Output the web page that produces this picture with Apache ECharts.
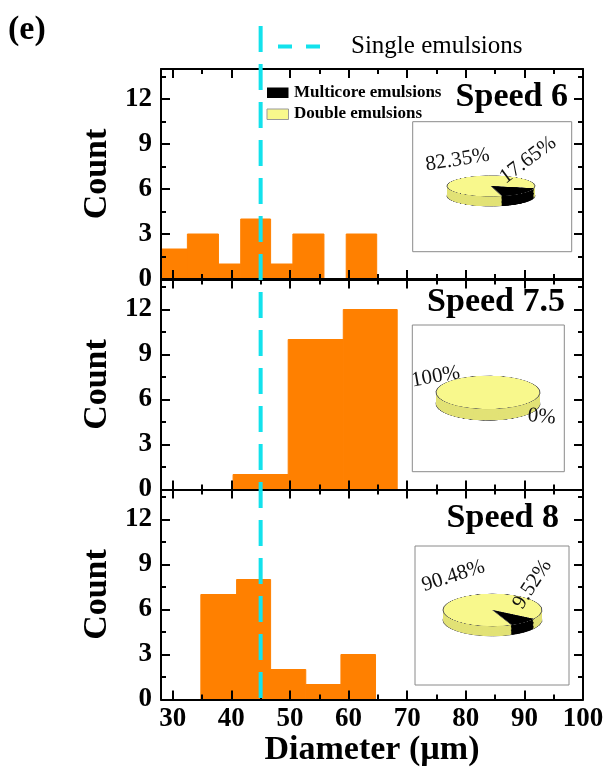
<!DOCTYPE html>
<html>
<head>
<meta charset="utf-8">
<script src="https://cdn.jsdelivr.net/npm/echarts@6/dist/echarts.min.js"></script>
<style>
  html, body { margin: 0; padding: 0; background: #fff; }
  #main { position: absolute; left: 0; top: 0; width: 608px; height: 781px; z-index: 2; }
  .pie { position: absolute; z-index: 1; }
</style>
</head>
<body>
<div id="main"></div>
<div id="pie0" class="pie"></div>
<div id="pie1" class="pie"></div>
<div id="pie2" class="pie"></div>
<script>
// values
var speeds = ['Speed 6', 'Speed 7.5', 'Speed 8'];
var binLo6 = [27.2, 32.5, 37.8, 41.6, 46.7, 50.5, 59.6];
var binHi6 = [32.5, 37.8, 41.6, 46.7, 50.5, 55.8, 64.8];
var count6 = [2, 3, 1, 4, 1, 3, 3];
var binLo75 = [40.3, 49.7, 59.1];
var binHi75 = [49.7, 59.1, 68.3];
var count75 = [1, 10, 12];
var binLo8 = [34.8, 40.9, 46.7, 52.7, 58.7];
var binHi8 = [40.9, 46.7, 52.7, 58.7, 64.6];
var count8 = [7, 8, 2, 1, 3];
var multicorePct = [17.65, 0, 9.52];
var doublePct = [82.35, 100, 90.48];
var singleDiameter = 45;
var xTicks = [30, 40, 50, 60, 70, 80, 90, 100];
var xMinor = [35, 45, 55, 65, 75, 85, 95];
var yTicks = [0, 3, 6, 9, 12];
var yMinor = [1.5, 4.5, 7.5, 10.5, 13.5];

var FONT = 'Liberation Serif';
var ORANGE = '#ff8000';
var CYAN = '#12e2ec';
var YELLOW = '#f8f88c';
var YELLOW_SIDE = '#e2e276';

var hist = [[binLo6, binHi6, count6], [binLo75, binHi75, count75], [binLo8, binHi8, count8]];
var gridTop = [69, 279.5, 489.5];
var gridLeft = 161, gridWidth = 422, gridHeight = 210;
var xMin = 28, xMax = 100, yMax = 14;

function makeAxis(isX, g, pos, values, len, showLabel, minor) {
  return {
    type: 'value', gridIndex: g, position: pos,
    min: isX ? xMin : 0, max: isX ? xMax : yMax,
    z: 4,
    axisLine: { show: !minor, onZero: false, lineStyle: { color: '#000', width: 2 } },
    axisTick: { show: true, inside: true, length: len, customValues: values,
      lineStyle: { color: '#000', width: 2 } },
    axisLabel: { show: showLabel, customValues: values, margin: isX ? 6 : 9, color: '#000',
      fontFamily: FONT, fontWeight: 'bold', fontSize: 27 },
    splitLine: { show: false }
  };
}

function histSeries(g, lo, hi, cnt) {
  return {
    type: 'custom', xAxisIndex: 4 * g, yAxisIndex: 4 * g, z: 2, silent: true,
    data: lo.map(function (v, i) { return [v, hi[i], cnt[i]]; }),
    encode: { x: [0, 1], y: 2 },
    renderItem: function (params, api) {
      var p0 = api.coord([api.value(0), api.value(2)]);
      var p1 = api.coord([api.value(1), 0]);
      var cs = params.coordSys;
      var shape = echarts.graphic.clipRectByRect(
        { x: p0[0], y: p0[1], width: p1[0] - p0[0], height: p1[1] - p0[1] },
        { x: cs.x, y: cs.y, width: cs.width, height: cs.height });
      return shape && { type: 'rect', shape: shape, style: { fill: ORANGE, stroke: ORANGE, lineWidth: 1 } };
    }
  };
}

var grids = [], xAxes = [], yAxes = [], series = [];
for (var g = 0; g < 3; g++) {
  grids.push({ left: gridLeft, top: gridTop[g], width: gridWidth, height: gridHeight });

  var xb = makeAxis(true, g, 'bottom', xTicks, 9, g === 2, false);
  if (g === 2) {
    xb.name = 'Diameter (µm)';
    xb.nameLocation = 'middle';
    xb.nameGap = 33;
    xb.nameTextStyle = { fontFamily: FONT, fontWeight: 'bold', fontSize: 34, color: '#000' };
  }
  xAxes.push(xb);
  xAxes.push(makeAxis(true, g, 'bottom', xMinor, 5, false, true));
  xAxes.push(makeAxis(true, g, 'top', xTicks, 9, false, false));
  xAxes.push(makeAxis(true, g, 'top', xMinor, 5, false, true));

  var yl = makeAxis(false, g, 'left', yTicks, 9, true, false);
  yl.name = 'Count';
  yl.nameLocation = 'middle';
  yl.nameGap = 40;
  yl.nameTextStyle = { fontFamily: FONT, fontWeight: 'bold', fontSize: 34, color: '#000' };
  yAxes.push(yl);
  yAxes.push(makeAxis(false, g, 'left', yMinor, 5, false, true));
  yAxes.push(makeAxis(false, g, 'right', yTicks, 9, false, false));
  yAxes.push(makeAxis(false, g, 'right', yMinor, 5, false, true));

  series.push(histSeries(g, hist[g][0], hist[g][1], hist[g][2]));
}

// overlay grid for the single-emulsion reference line
grids.push({ left: gridLeft, width: gridWidth, top: 26, height: 675 });
xAxes.push({ type: 'value', gridIndex: 3, min: xMin, max: xMax, show: false });
yAxes.push({ type: 'value', gridIndex: 3, min: 0, max: 1, show: false });
series.push({
  name: 'Single emulsions', type: 'line', xAxisIndex: 12, yAxisIndex: 12,
  data: [[singleDiameter, 1], [singleDiameter, 0]],
  symbol: 'none', silent: true, z: 6,
  itemStyle: { color: CYAN },
  lineStyle: { color: CYAN, width: 4, type: [26, 12] }
});

// insets, titles, legends and pie labels
var insets = [
  { x: 412.7, y: 121.7, w: 159, h: 130 },
  { x: 412.3, y: 325, w: 152, h: 146.7 },
  { x: 415, y: 546, w: 154, h: 139 }
];
var titlePos = [[568, 97], [565, 302], [559, 518]];
var labelPos = [
  { d: [457.5, 160, 9], m: [528, 160, 37] },
  { d: [435.7, 376.7, 10], m: [541.7, 416.7, -5] },
  { d: [453.3, 576, 18], m: [532.3, 584.3, 57] }
];

var graphics = [{
  type: 'text', left: 8, top: 13,
  style: { text: '(e)', font: 'bold 34px ' + FONT, fill: '#000' }
}];
insets.forEach(function (b, i) {
  graphics.push({ type: 'rect', shape: { x: b.x, y: b.y, width: b.w, height: b.h },
    style: { fill: 'none', stroke: '#8a8a8a', lineWidth: 1 }, z: 1 });
  graphics.push({ type: 'text', x: titlePos[i][0], y: titlePos[i][1],
    style: { text: speeds[i], font: 'bold 34px ' + FONT, fill: '#000', align: 'right', verticalAlign: 'middle' } });
  var lp = labelPos[i];
  graphics.push({ type: 'text', x: lp.d[0], y: lp.d[1], rotation: lp.d[2] * Math.PI / 180,
    style: { text: doublePct[i] + '%', font: '21px ' + FONT, fill: '#111', align: 'center', verticalAlign: 'middle' } });
  graphics.push({ type: 'text', x: lp.m[0], y: lp.m[1], rotation: lp.m[2] * Math.PI / 180,
    style: { text: multicorePct[i] + '%', font: '21px ' + FONT, fill: '#111', align: 'center', verticalAlign: 'middle' } });
});
graphics.push(
  { type: 'line', shape: { x1: 278, y1: 46.5, x2: 324, y2: 46.5 },
    style: { stroke: CYAN, lineWidth: 4, lineDash: [14, 14] } },
  { type: 'text', x: 351, y: 46.5, style: { text: 'Single emulsions', font: '25px ' + FONT, fill: '#000', verticalAlign: 'middle' } },
  { type: 'rect', shape: { x: 267, y: 87.5, width: 21.5, height: 10.5 }, style: { fill: '#000' } },
  { type: 'text', x: 294, y: 92.7, style: { text: 'Multicore emulsions', font: 'bold 17px ' + FONT, fill: '#000', verticalAlign: 'middle' } },
  { type: 'rect', shape: { x: 267, y: 109, width: 21.5, height: 10.5 }, style: { fill: YELLOW, stroke: '#999', lineWidth: 1 } },
  { type: 'text', x: 294, y: 114, style: { text: 'Double emulsions', font: 'bold 17px ' + FONT, fill: '#000', verticalAlign: 'middle' } }
);

var chart = echarts.init(document.getElementById('main'));
chart.setOption({
  animation: false,
  grid: grids,
  xAxis: xAxes,
  yAxis: yAxes,
  series: series,
  graphic: graphics
});

// tilted pies: drawn by the pie series, squashed with a CSS scale
var pieGeo = [
  { cx: 491, cy: 185.5, a: 44, b: 10.5, t: 10, start: -12 },
  { cx: 488, cy: 392.7, a: 52, b: 16.7, t: 11.5, start: -37 },
  { cx: 492, cy: 610.3, a: 49.5, b: 16.3, t: 10, start: -33 }
];
function pieLayer(i, p, pad, d, top, outline) {
  var stroke = top || outline;
  return {
    type: 'pie', center: [p.a + pad, p.a + pad + d], radius: p.a,
    startAngle: p.start, clockwise: true, silent: true,
    label: { show: false }, labelLine: { show: false },
    itemStyle: { borderColor: stroke ? '#555' : 'transparent', borderWidth: stroke ? 1 : 0 },
    data: [
      { name: 'Multicore emulsions', value: multicorePct[i], itemStyle: { color: '#000' } },
      { name: 'Double emulsions', value: doublePct[i], itemStyle: { color: top ? YELLOW : YELLOW_SIDE } }
    ]
  };
}
pieGeo.forEach(function (p, i) {
  var k = p.b / p.a, pad = 2, T = p.t / k;
  var w = 2 * (p.a + pad), h = w + T;
  var el = document.getElementById('pie' + i);
  el.style.left = (p.cx - p.a - pad) + 'px';
  el.style.top = (p.cy - (p.a + pad) * k) + 'px';
  el.style.width = w + 'px';
  el.style.height = h + 'px';
  el.style.transformOrigin = '50% 0';
  el.style.transform = 'scaleY(' + k + ')';
  var pc = echarts.init(el);
  var ser = [];
  var step = 0.8 / k;
  var first = true;
  for (var d = T; d > 0; d -= step) {
    ser.push(pieLayer(i, p, pad, d, false, first));
    first = false;
  }
  ser.push(pieLayer(i, p, pad, 0, true, false));
  pc.setOption({ animation: false, series: ser });
});

window.addEventListener('resize', chart.resize);
</script>
</body>
</html>
